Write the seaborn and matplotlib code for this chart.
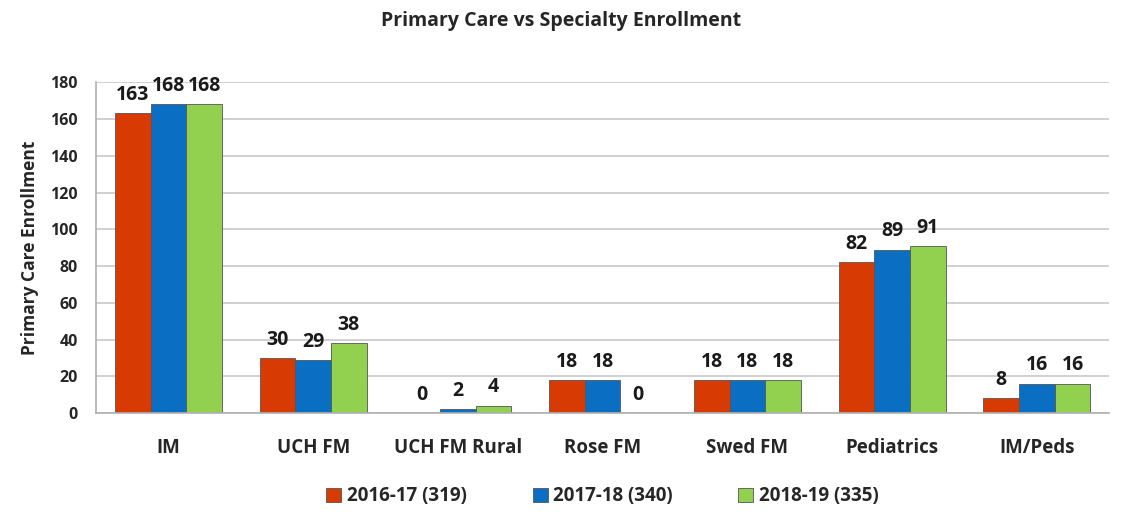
import pandas as pd
import numpy as np
import seaborn as sns
import matplotlib.pyplot as plt

# datos
programs = ["IM", "UCH FM", "UCH FM Rural", "Rose FM", "Swed FM", "Pediatrics", "IM/Peds"]
years = ["2016-17 (319)", "2017-18 (340)", "2018-19 (335)"]
y2016 = [163, 30, 0, 18, 18, 82, 8]
y2017 = [168, 29, 2, 18, 18, 89, 16]
y2018 = [168, 38, 4, 0, 18, 91, 16]
colors = ["#D83A03", "#0A6FC2", "#92D050"]

df = pd.DataFrame({
    "program": programs * 3,
    "year": [years[0]] * 7 + [years[1]] * 7 + [years[2]] * 7,
    "value": y2016 + y2017 + y2018,
})

sns.set_style("white")
plt.rcParams["font.family"] = ["Open Sans", "DejaVu Sans"]
plt.rcParams["font.weight"] = "bold"

fig = plt.figure(figsize=(11.22, 5.27), dpi=100)
ax = fig.add_axes([0.0856, 0.216, 0.903, 0.628])

sns.barplot(data=df, x="program", y="value", hue="year", palette=colors, saturation=1,
            width=0.74, edgecolor="#555555", linewidth=0.6, ax=ax, legend=True)

for cont in ax.containers:
    ax.bar_label(cont, padding=6, fontsize=14, fontweight="bold", color="#1a1a1a")

ax.set_ylim(0, 180)
ax.set_yticks(range(0, 181, 20))
ax.yaxis.grid(True, color="#c8c8c8", linewidth=1.2)
ax.set_axisbelow(True)
ax.set_xlim(-0.5, len(programs) - 0.5)

for s in ["top", "right"]:
    ax.spines[s].set_visible(False)
ax.spines["left"].set_color("#b0b0b0")
ax.spines["bottom"].set_color("#b0b0b0")
ax.spines["left"].set_linewidth(1.2)
ax.spines["bottom"].set_linewidth(1.2)

ax.set_xticks(np.arange(-0.5, len(programs), 1.0), minor=True)
ax.tick_params(axis="x", which="minor", length=6, color="#b0b0b0", width=1.2)
ax.tick_params(axis="x", which="major", length=0, pad=18, labelsize=13.5)
ax.tick_params(axis="y", length=5, color="#b0b0b0", width=1.2, labelsize=11.5, pad=8)
for lab in ax.get_xticklabels() + ax.get_yticklabels():
    lab.set_fontweight("bold")

ax.set_xlabel("")
ax.set_ylabel("Primary Care Enrollment", fontsize=12.5, fontweight="bold", labelpad=8)
fig.suptitle("Primary Care vs Specialty Enrollment", fontsize=14, fontweight="bold", y=0.98)

ax.legend(loc="upper center", bbox_to_anchor=(0.5, -0.17), ncol=3, frameon=False,
          handlelength=0.8, handleheight=0.8, columnspacing=3.5,
          handletextpad=0.3, prop={"weight": "bold", "size": 13.5})

fig.savefig("out.png", dpi=100)
